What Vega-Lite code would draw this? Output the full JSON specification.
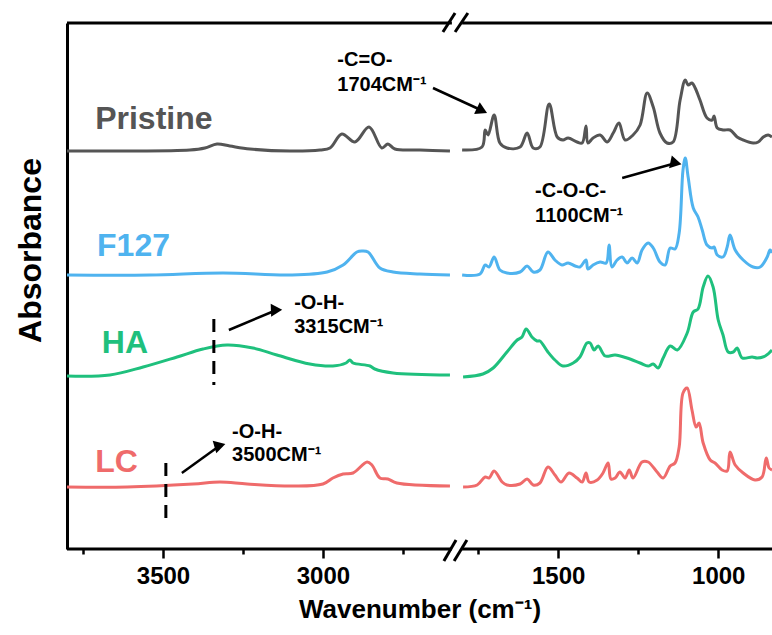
{
"$schema": "https://vega.github.io/schema/vega-lite/v6.json",
"width": 705, "height": 526,
"autosize": {"type": "none"},
"padding": {"left": 67, "top": 23, "right": 0, "bottom": 86},
"config": {"view": {"stroke": null}, "font": "Liberation Sans"},
"datasets": {
"left": [
{"s":"Pristine","w":3800,"a":3.98},{"s":"Pristine","w":3634,"a":3.98},{"s":"Pristine","w":3416,"a":3.99},{"s":"Pristine","w":3369,"a":4.01},{"s":"Pristine","w":3331,"a":4.05},{"s":"Pristine","w":3291,"a":4.03},{"s":"Pristine","w":3228,"a":4.00},{"s":"Pristine","w":3103,"a":3.98},{"s":"Pristine","w":3009,"a":3.99},{"s":"Pristine","w":2978,"a":4.01},{"s":"Pristine","w":2941,"a":4.15},{"s":"Pristine","w":2900,"a":4.07},{"s":"Pristine","w":2856,"a":4.22},{"s":"Pristine","w":2816,"a":4.01},{"s":"Pristine","w":2797,"a":4.05},{"s":"Pristine","w":2775,"a":4.00},{"s":"Pristine","w":2697,"a":3.99},{"s":"Pristine","w":2603,"a":3.98},
{"s":"F127","w":3800,"a":2.74},{"s":"F127","w":3541,"a":2.74},{"s":"F127","w":3312,"a":2.76},{"s":"F127","w":3103,"a":2.74},{"s":"F127","w":2987,"a":2.77},{"s":"F127","w":2937,"a":2.84},{"s":"F127","w":2894,"a":2.97},{"s":"F127","w":2878,"a":2.98},{"s":"F127","w":2859,"a":2.97},{"s":"F127","w":2822,"a":2.81},{"s":"F127","w":2781,"a":2.77},{"s":"F127","w":2697,"a":2.75},{"s":"F127","w":2603,"a":2.74},
{"s":"HA","w":3800,"a":1.73},{"s":"HA","w":3666,"a":1.74},{"s":"HA","w":3562,"a":1.82},{"s":"HA","w":3456,"a":1.92},{"s":"HA","w":3375,"a":2.00},{"s":"HA","w":3300,"a":2.04},{"s":"HA","w":3219,"a":2.01},{"s":"HA","w":3144,"a":1.94},{"s":"HA","w":3041,"a":1.85},{"s":"HA","w":2969,"a":1.83},{"s":"HA","w":2928,"a":1.86},{"s":"HA","w":2916,"a":1.89},{"s":"HA","w":2906,"a":1.86},{"s":"HA","w":2853,"a":1.83},{"s":"HA","w":2838,"a":1.80},{"s":"HA","w":2781,"a":1.76},{"s":"HA","w":2603,"a":1.74},
{"s":"LC","w":3800,"a":0.62},{"s":"LC","w":3612,"a":0.62},{"s":"LC","w":3406,"a":0.65},{"s":"LC","w":3322,"a":0.67},{"s":"LC","w":3237,"a":0.65},{"s":"LC","w":3094,"a":0.63},{"s":"LC","w":3000,"a":0.65},{"s":"LC","w":2969,"a":0.71},{"s":"LC","w":2937,"a":0.75},{"s":"LC","w":2906,"a":0.76},{"s":"LC","w":2862,"a":0.87},{"s":"LC","w":2847,"a":0.84},{"s":"LC","w":2822,"a":0.71},{"s":"LC","w":2797,"a":0.70},{"s":"LC","w":2769,"a":0.66},{"s":"LC","w":2603,"a":0.63}
],
"right": [
{"s":"Pristine","w":1800,"a":3.99},{"s":"Pristine","w":1738,"a":4.02},{"s":"Pristine","w":1728,"a":4.19},{"s":"Pristine","w":1719,"a":4.14},{"s":"Pristine","w":1700,"a":4.34},{"s":"Pristine","w":1682,"a":4.06},{"s":"Pristine","w":1660,"a":4.01},{"s":"Pristine","w":1619,"a":4.02},{"s":"Pristine","w":1597,"a":4.16},{"s":"Pristine","w":1578,"a":4.01},{"s":"Pristine","w":1557,"a":4.02},{"s":"Pristine","w":1528,"a":4.45},{"s":"Pristine","w":1503,"a":4.12},{"s":"Pristine","w":1485,"a":4.09},{"s":"Pristine","w":1469,"a":4.11},{"s":"Pristine","w":1441,"a":4.07},{"s":"Pristine","w":1425,"a":4.06},{"s":"Pristine","w":1413,"a":4.23},{"s":"Pristine","w":1407,"a":4.06},{"s":"Pristine","w":1391,"a":4.11},{"s":"Pristine","w":1369,"a":4.14},{"s":"Pristine","w":1347,"a":4.07},{"s":"Pristine","w":1328,"a":4.16},{"s":"Pristine","w":1310,"a":4.26},{"s":"Pristine","w":1291,"a":4.09},{"s":"Pristine","w":1266,"a":4.14},{"s":"Pristine","w":1244,"a":4.24},{"s":"Pristine","w":1222,"a":4.56},{"s":"Pristine","w":1203,"a":4.42},{"s":"Pristine","w":1182,"a":4.16},{"s":"Pristine","w":1160,"a":4.06},{"s":"Pristine","w":1141,"a":4.07},{"s":"Pristine","w":1119,"a":4.49},{"s":"Pristine","w":1103,"a":4.69},{"s":"Pristine","w":1094,"a":4.64},{"s":"Pristine","w":1082,"a":4.66},{"s":"Pristine","w":1072,"a":4.61},{"s":"Pristine","w":1057,"a":4.49},{"s":"Pristine","w":1035,"a":4.31},{"s":"Pristine","w":1019,"a":4.29},{"s":"Pristine","w":1013,"a":4.33},{"s":"Pristine","w":1003,"a":4.21},{"s":"Pristine","w":985,"a":4.19},{"s":"Pristine","w":963,"a":4.19},{"s":"Pristine","w":941,"a":4.12},{"s":"Pristine","w":922,"a":4.09},{"s":"Pristine","w":891,"a":4.06},{"s":"Pristine","w":875,"a":4.07},{"s":"Pristine","w":859,"a":4.12},{"s":"Pristine","w":844,"a":4.14},{"s":"Pristine","w":832,"a":4.12},
{"s":"F127","w":1800,"a":2.74},{"s":"F127","w":1744,"a":2.75},{"s":"F127","w":1728,"a":2.84},{"s":"F127","w":1716,"a":2.82},{"s":"F127","w":1700,"a":2.92},{"s":"F127","w":1682,"a":2.79},{"s":"F127","w":1660,"a":2.76},{"s":"F127","w":1619,"a":2.77},{"s":"F127","w":1597,"a":2.83},{"s":"F127","w":1578,"a":2.77},{"s":"F127","w":1557,"a":2.79},{"s":"F127","w":1532,"a":2.97},{"s":"F127","w":1510,"a":2.89},{"s":"F127","w":1488,"a":2.84},{"s":"F127","w":1469,"a":2.86},{"s":"F127","w":1447,"a":2.83},{"s":"F127","w":1432,"a":2.82},{"s":"F127","w":1413,"a":2.89},{"s":"F127","w":1407,"a":2.80},{"s":"F127","w":1391,"a":2.84},{"s":"F127","w":1369,"a":2.87},{"s":"F127","w":1350,"a":2.86},{"s":"F127","w":1341,"a":3.04},{"s":"F127","w":1332,"a":2.82},{"s":"F127","w":1316,"a":2.89},{"s":"F127","w":1300,"a":2.92},{"s":"F127","w":1285,"a":2.86},{"s":"F127","w":1269,"a":2.91},{"s":"F127","w":1253,"a":2.86},{"s":"F127","w":1238,"a":2.99},{"s":"F127","w":1219,"a":3.06},{"s":"F127","w":1203,"a":3.01},{"s":"F127","w":1182,"a":2.87},{"s":"F127","w":1166,"a":2.84},{"s":"F127","w":1150,"a":3.01},{"s":"F127","w":1135,"a":3.00},{"s":"F127","w":1122,"a":3.16},{"s":"F127","w":1110,"a":3.79},{"s":"F127","w":1103,"a":3.91},{"s":"F127","w":1094,"a":3.72},{"s":"F127","w":1078,"a":3.41},{"s":"F127","w":1063,"a":3.32},{"s":"F127","w":1050,"a":3.19},{"s":"F127","w":1035,"a":3.04},{"s":"F127","w":1019,"a":3.01},{"s":"F127","w":1013,"a":3.02},{"s":"F127","w":1003,"a":2.94},{"s":"F127","w":985,"a":2.92},{"s":"F127","w":972,"a":3.02},{"s":"F127","w":963,"a":3.14},{"s":"F127","w":947,"a":2.99},{"s":"F127","w":922,"a":2.89},{"s":"F127","w":891,"a":2.82},{"s":"F127","w":869,"a":2.82},{"s":"F127","w":847,"a":2.92},{"s":"F127","w":838,"a":2.99},{"s":"F127","w":832,"a":2.96},
{"s":"HA","w":1797,"a":1.72},{"s":"HA","w":1735,"a":1.75},{"s":"HA","w":1703,"a":1.81},{"s":"HA","w":1660,"a":1.97},{"s":"HA","w":1628,"a":2.09},{"s":"HA","w":1613,"a":2.12},{"s":"HA","w":1600,"a":2.20},{"s":"HA","w":1582,"a":2.12},{"s":"HA","w":1566,"a":2.08},{"s":"HA","w":1557,"a":2.08},{"s":"HA","w":1532,"a":1.97},{"s":"HA","w":1510,"a":1.89},{"s":"HA","w":1485,"a":1.83},{"s":"HA","w":1453,"a":1.86},{"s":"HA","w":1432,"a":1.92},{"s":"HA","w":1410,"a":2.06},{"s":"HA","w":1400,"a":2.06},{"s":"HA","w":1388,"a":1.99},{"s":"HA","w":1375,"a":2.03},{"s":"HA","w":1353,"a":1.93},{"s":"HA","w":1322,"a":1.94},{"s":"HA","w":1285,"a":1.91},{"s":"HA","w":1244,"a":1.86},{"s":"HA","w":1219,"a":1.83},{"s":"HA","w":1203,"a":1.85},{"s":"HA","w":1188,"a":1.81},{"s":"HA","w":1172,"a":1.91},{"s":"HA","w":1150,"a":2.03},{"s":"HA","w":1128,"a":1.99},{"s":"HA","w":1097,"a":2.16},{"s":"HA","w":1078,"a":2.37},{"s":"HA","w":1063,"a":2.40},{"s":"HA","w":1047,"a":2.62},{"s":"HA","w":1032,"a":2.73},{"s":"HA","w":1016,"a":2.62},{"s":"HA","w":1000,"a":2.29},{"s":"HA","w":985,"a":2.14},{"s":"HA","w":969,"a":1.97},{"s":"HA","w":953,"a":1.97},{"s":"HA","w":941,"a":2.01},{"s":"HA","w":925,"a":1.91},{"s":"HA","w":894,"a":1.92},{"s":"HA","w":878,"a":1.91},{"s":"HA","w":853,"a":1.93},{"s":"HA","w":832,"a":1.99},
{"s":"LC","w":1797,"a":0.62},{"s":"LC","w":1753,"a":0.64},{"s":"LC","w":1728,"a":0.72},{"s":"LC","w":1716,"a":0.71},{"s":"LC","w":1700,"a":0.78},{"s":"LC","w":1675,"a":0.67},{"s":"LC","w":1660,"a":0.64},{"s":"LC","w":1619,"a":0.65},{"s":"LC","w":1597,"a":0.70},{"s":"LC","w":1578,"a":0.64},{"s":"LC","w":1557,"a":0.66},{"s":"LC","w":1532,"a":0.82},{"s":"LC","w":1510,"a":0.74},{"s":"LC","w":1491,"a":0.67},{"s":"LC","w":1466,"a":0.76},{"s":"LC","w":1441,"a":0.71},{"s":"LC","w":1425,"a":0.67},{"s":"LC","w":1413,"a":0.76},{"s":"LC","w":1403,"a":0.67},{"s":"LC","w":1378,"a":0.69},{"s":"LC","w":1360,"a":0.76},{"s":"LC","w":1344,"a":0.86},{"s":"LC","w":1335,"a":0.70},{"s":"LC","w":1322,"a":0.71},{"s":"LC","w":1307,"a":0.77},{"s":"LC","w":1291,"a":0.71},{"s":"LC","w":1278,"a":0.79},{"s":"LC","w":1266,"a":0.71},{"s":"LC","w":1238,"a":0.87},{"s":"LC","w":1219,"a":0.87},{"s":"LC","w":1191,"a":0.77},{"s":"LC","w":1172,"a":0.71},{"s":"LC","w":1150,"a":0.83},{"s":"LC","w":1135,"a":0.86},{"s":"LC","w":1122,"a":1.02},{"s":"LC","w":1110,"a":1.56},{"s":"LC","w":1097,"a":1.61},{"s":"LC","w":1082,"a":1.39},{"s":"LC","w":1069,"a":1.22},{"s":"LC","w":1060,"a":1.26},{"s":"LC","w":1047,"a":1.06},{"s":"LC","w":1025,"a":0.89},{"s":"LC","w":1010,"a":0.86},{"s":"LC","w":988,"a":0.79},{"s":"LC","w":972,"a":0.78},{"s":"LC","w":963,"a":0.97},{"s":"LC","w":947,"a":0.84},{"s":"LC","w":922,"a":0.76},{"s":"LC","w":885,"a":0.69},{"s":"LC","w":863,"a":0.72},{"s":"LC","w":850,"a":0.91},{"s":"LC","w":841,"a":0.81},{"s":"LC","w":832,"a":0.79}
],
"labels": [{"s":"Pristine","w":3712,"a":4.30},{"s":"F127","w":3706,"a":3.03},{"s":"HA","w":3691,"a":2.06},{"s":"LC","w":3712,"a":0.87}],
"notes": [{"t":"-C=O-","w":2955,"a":4.89},{"t":"1704CM⁻¹","w":2955,"a":4.64},{"t":"-C-O-C-","w":1572,"a":3.58},{"t":"1100CM⁻¹","w":1572,"a":3.33},{"t":"-O-H-","w":3090,"a":2.46},{"t":"3315CM⁻¹","w":3090,"a":2.22},{"t":"-O-H-","w":3284,"a":1.17},{"t":"3500CM⁻¹","w":3284,"a":0.94}],
"arrows": [{"id":"co","w":2656,"a":4.61,"w2":1738,"a2":4.385},{"id":"coc","w":1300,"a":3.71,"w2":1132,"a2":3.86},{"id":"oh1","w":3294,"a":2.19,"w2":3145,"a2":2.39},{"id":"oh2","w":3441,"a":0.76,"w2":3322,"a2":1.035}],
"dash": [{"w":3341,"a":2.30,"a2":1.64},{"w":3491,"a":0.86,"a2":0.31}],
"frame": [{"w":3800,"a":5.26,"w2":2597,"a2":5.26},{"w":1800,"a":5.26,"w2":832,"a2":5.26},{"w":3800,"a":0,"w2":2597,"a2":0},{"w":1800,"a":0,"w2":832,"a2":0},{"w":2622,"a":-0.12,"w2":2584,"a2":0.09},{"w":2590,"a":-0.12,"w2":1785,"a2":0.09},{"w":2625,"a":5.17,"w2":2587,"a2":5.36},{"w":2587,"a":5.17,"w2":1782,"a2":5.36}]
},
"encoding": {
  "x": {"field": "w", "type": "quantitative", "scale": {"domain": [3800, 2581, 1816, 832], "range": [0, 390, 390, 705], "nice": false, "zero": false},
   "axis": {"values": [3750,3500,3250,3000,2750,1750,1500,1250,1000], "format": "d", "labelExpr": "datum.value % 500 == 0 ? datum.label : ''", "domain": false, "grid": false, "tickColor": "black", "tickWidth": 2.5, "tickSize": {"condition": {"test": "datum.value % 500 == 0", "value": 9}, "value": 5}, "labelFontSize": 24, "labelFontWeight": "bold", "labelColor": "black", "labelPadding": 6, "labelFlush": false, "labelOverlap": false, "title": "Wavenumber (cm⁻¹)", "titleFontSize": 26, "titleFontWeight": "bold", "titleColor": "black", "titlePadding": 8}},
  "y": {"field": "a", "type": "quantitative", "scale": {"domain": [0, 5.26], "nice": false, "zero": false},
   "axis": {"title": "Absorbance", "labels": false, "ticks": false, "grid": false, "domainColor": "black", "domainWidth": 3, "titleFontSize": 32, "titleFontWeight": "bold", "titleColor": "black", "titlePadding": 20, "titleY": 227}}
},
"layer": [
{"data": {"name": "left"}, "mark": {"type": "line", "strokeWidth": 3, "interpolate": "catmull-rom"},
 "encoding": {
  "color": {"field": "s", "type": "nominal", "scale": {"domain": ["Pristine","F127","HA","LC"], "range": ["#555555","#4FB3EF","#1FC07D","#EF6B6B"]}, "legend": null}
 }},
{"data": {"name": "right"}, "mark": {"type": "line", "strokeWidth": 3, "interpolate": "catmull-rom"},
 "encoding": {
  "color": {"field": "s", "type": "nominal", "legend": null}
 }},
{"data": {"name": "frame"}, "mark": {"type": "rule", "strokeWidth": 3, "color": "black"},
 "encoding": {"x2": {"field": "w2"}, "y2": {"field": "a2"}}},
{"data": {"name": "dash"}, "mark": {"type": "rule", "strokeWidth": 3, "color": "black", "strokeDash": [13, 8]},
 "encoding": {"y2": {"field": "a2"}}},
{"data": {"name": "arrows"}, "mark": {"type": "rule", "strokeWidth": 2.5, "color": "black"},
 "encoding": {"x2": {"field": "w2"}, "y2": {"field": "a2"}}},
{"data": {"name": "arrows"}, "mark": {"type": "point", "shape": "triangle-up", "filled": true, "color": "black", "size": 170, "opacity": 1},
 "encoding": {"x": {"field": "w2", "type": "quantitative"}, "y": {"field": "a2", "type": "quantitative"},
  "angle": {"field": "id", "type": "nominal", "scale": {"domain": ["co","coc","oh1","oh2"], "range": [116, 74, 67.5, 54]}, "legend": null}}},
{"data": {"name": "notes"}, "mark": {"type": "text", "align": "left", "baseline": "middle", "fontSize": 20, "fontWeight": "bold", "color": "black"},
 "encoding": {"text": {"field": "t"}}},
{"data": {"name": "labels"}, "mark": {"type": "text", "align": "left", "baseline": "middle", "fontSize": 32, "fontWeight": "bold"},
 "encoding": {"text": {"field": "s"}, "color": {"field": "s", "type": "nominal", "legend": null}}}
]
}
